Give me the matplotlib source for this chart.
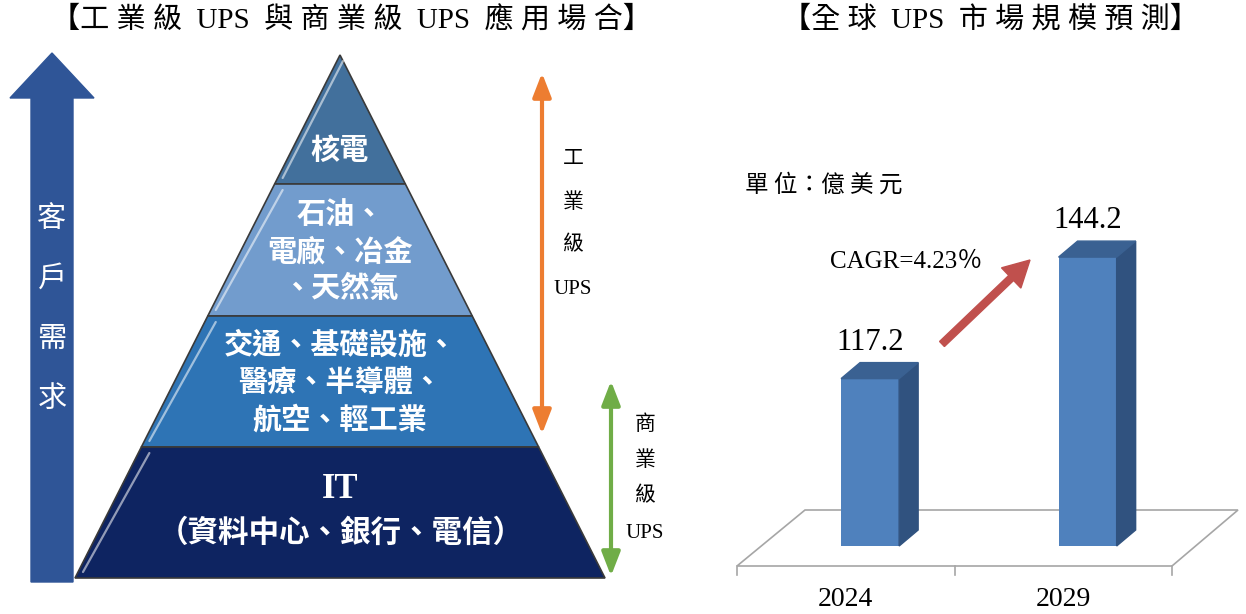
import numpy as np
import matplotlib
matplotlib.use("Agg")
import matplotlib.pyplot as plt
from matplotlib.patches import Polygon, FancyArrow

plt.rcParams['font.family'] = ['Noto Sans CJK TC', 'DejaVu Sans']
SERIF = ['Liberation Serif', 'Noto Sans CJK TC']

# data
layer_labels = ["核電", "石油、\n電廠、冶金\n、天然氣",
                "交通、基礎設施、\n醫療、半導體、\n航空、輕工業",
                "IT\n（資料中心、銀行、電信）"]
layer_colors = ["#42709C", "#729CCD", "#2E74B5", "#0E2461"]
years = ["2024", "2029"]
market = [117.2, 144.2]
cagr_text = "CAGR=4.23％"

W, H = 1246, 614
fig = plt.figure(figsize=(W / 100, H / 100), dpi=100)
ax = fig.add_axes([0, 0, 1, 1])
ax.set_xlim(0, W)
ax.set_ylim(H, 0)
ax.axis('off')

# titles (spaced out like the original)
ax.text(351, 20, "【工 業 級  UPS  與 商 業 級  UPS  應 用 場 合】", family=SERIF,
        fontsize=21, ha='center', va='center')
ax.text(990, 20, "【全 球  UPS  市 場 規 模 預 測】", family=SERIF,
        fontsize=21, ha='center', va='center')

# big demand arrow
arrow_pts = [(31, 582), (31, 98), (10, 98), (52, 53), (94, 98), (73, 98), (73, 582)]
ax.add_patch(Polygon(arrow_pts, closed=True, color="#2F5597"))
for i, ch in enumerate("客戶需求"):
    ax.text(52, 219 + i * 60, ch, color='white', fontsize=21, ha='center', va='center')

# pyramid
apex = (340, 55)
base_y, half_base = 578, 265
bounds = [55, 184, 316, 447, 578]
text_y = [150, 251, 382]


def edge(y):
    d = (y - apex[1]) / (base_y - apex[1]) * half_base
    return apex[0] - d, apex[0] + d


for i, lab in enumerate(layer_labels):
    y0, y1 = bounds[i], bounds[i + 1]
    l0, r0 = edge(y0)
    l1, r1 = edge(y1)
    ax.add_patch(Polygon([(l0, y0), (r0, y0), (r1, y1), (l1, y1)], closed=True,
                         facecolor=layer_colors[i], edgecolor="#3a3a3a", lw=1.2))
    # light bevel on left edge
    ax.plot([l1 + 8, l0 + 8 if i else l0 + 3], [y1 - 6, y0 + 6], color='white',
            lw=1.6, alpha=0.55, solid_capstyle='round')
    if i == 3:
        ax.text(340, 489, "IT", family=SERIF, color='white', fontsize=25,
                fontweight='bold', ha='center', va='center')
        ax.text(341, 533, lab.split("\n")[1], color='white', fontsize=22,
                fontweight='bold', ha='center', va='center')
    else:
        ax.text(340, text_y[i], lab, color='white', fontsize=21, fontweight='bold',
                ha='center', va='center', linespacing=1.3)

# industrial / commercial ranges
arrow_kw = dict(arrowstyle='<|-|>,head_length=0.9,head_width=0.35', lw=3,
                mutation_scale=16, shrinkA=0, shrinkB=0)
ax.annotate('', xy=(542, 73), xytext=(542, 434),
            arrowprops=dict(color="#ED7D31", **arrow_kw))
ax.annotate('', xy=(611, 381), xytext=(611, 576),
            arrowprops=dict(color="#70AD47", **arrow_kw))
for i, ch in enumerate(["工", "業", "級", "UPS"]):
    ax.text(573, 160 + i * 43, ch, family=SERIF, fontsize=15, ha='center', va='center')
for i, ch in enumerate(["商", "業", "級", "UPS"]):
    ax.text(645, 425 + i * 36, ch, family=SERIF, fontsize=15, ha='center', va='center')

# ---- bar chart (pseudo 3D) ----
px_unit_x, px_unit_y = 217.5, 4.5
ybase = 80
bx = fig.add_axes([737 / W, 0, 435 / W, 1])
bx.set_xlim(-0.5, 1.5)
bx.set_ylim(ybase - (H - 546) / px_unit_y, ybase + 546 / px_unit_y)
bx.axis('off')

dx, dy = 19 / px_unit_x, 16 / px_unit_y
off, bw = 0.112, 0.267
floor_front = ybase - 20 / px_unit_y
floor_back = ybase + 36 / px_unit_y
floor = [(-0.5, floor_front), (-0.5 + 68 / px_unit_x, floor_back),
         (1.5 + 66 / px_unit_x, floor_back), (1.5, floor_front)]
bx.add_patch(Polygon(floor, closed=True, fill=False, edgecolor="#a6a6a6",
                     lw=1.2, clip_on=False))
for xt in [-0.5, 0.5, 1.5]:
    bx.plot([xt, xt], [floor_front, floor_front - 9 / px_unit_y],
            color="#a6a6a6", lw=1.2, clip_on=False)

x = np.arange(len(years))
vals = np.array(market)
bx.bar(x + off, vals - ybase, bottom=ybase, width=bw, color="#4F81BD", zorder=3)
for xi, v in zip(x + off, vals):
    xr = xi + bw / 2
    xl = xi - bw / 2
    bx.add_patch(Polygon([(xr, ybase), (xr + dx, ybase + dy), (xr + dx, v + dy), (xr, v)],
                         closed=True, color="#30527F", zorder=3))
    bx.add_patch(Polygon([(xl, v), (xl + dx, v + dy), (xr + dx, v + dy), (xr, v)],
                         closed=True, color="#3A6192", zorder=3))
    bx.text(xi, v + dy + 6 / px_unit_y, f"{v:.1f}", family=SERIF, fontsize=22,
            ha='center', va='bottom')
for xi, yr in zip(x, years):
    bx.text(xi, ybase - 54 / px_unit_y, yr, family=SERIF, fontsize=20,
            ha='center', va='center', clip_on=False)

ax.text(745, 185, "單 位：億 美 元", fontsize=17, ha='left', va='center')
ax.text(830, 262, cagr_text, family=SERIF, fontsize=18, ha='left', va='center')
ax.add_patch(FancyArrow(942, 344, 88, -84, width=7, head_width=28, head_length=26,
                        length_includes_head=True, color="#C0504D", zorder=4))

fig.savefig("out.png", dpi=100)
